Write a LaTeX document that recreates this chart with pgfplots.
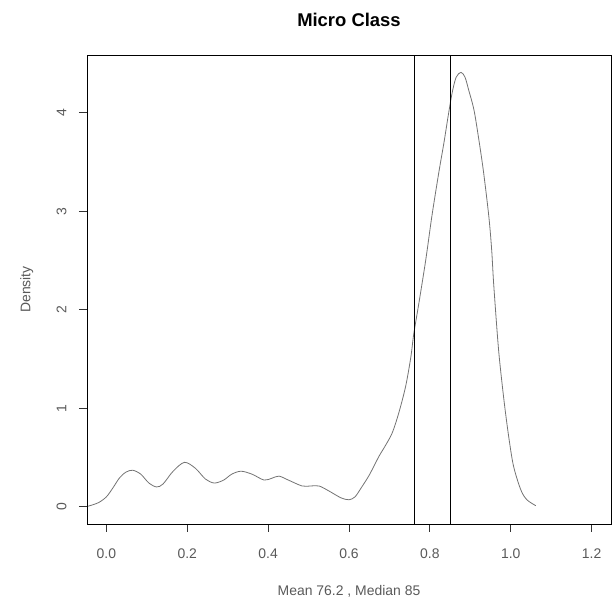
\documentclass[border=0pt]{standalone}
\usepackage{pgfplots}
\pgfplotsset{compat=1.18}
\usepackage{fontspec}
\setmainfont{Liberation Sans}

\begin{document}
\begin{tikzpicture}
\begin{axis}[
    at={(87bp,77bp)},
    anchor=south west,
    scale only axis,
    width=524bp,
    height=469bp,
    xmin=-0.048, xmax=1.248,
    ymin=-0.176, ymax=4.586,
    xtick={0,0.2,0.4,0.6,0.8,1.0,1.2},
    ytick={0,1,2,3,4},
    tick pos=left,
    tick align=outside,
    major tick length=8bp,
    tick style={black!80, line width=0.9bp},
    axis line style={black, line width=0.9bp},
    /pgf/number format/assume math mode=true,
    ticklabel style={font=\fontsize{14}{16}\selectfont, text=black!65},
    xticklabel style={yshift=-13bp, /pgf/number format/fixed,
        /pgf/number format/fixed zerofill, /pgf/number format/precision=1},
    yticklabel style={rotate=90, anchor=south, yshift=9bp},
    title={Micro Class},
    title style={font=\fontsize{18.5}{21}\selectfont\bfseries, at={(axis description cs:0.5,1.062)}, anchor=center},
    xlabel={Mean 76.2 , Median 85},
    xlabel style={font=\fontsize{14}{16}\selectfont, text=black!65, at={(axis description cs:0.5,-0.143)}, anchor=center},
    ylabel={Density},
    ylabel style={font=\fontsize{14}{16}\selectfont, text=black!65, at={(axis description cs:-0.115,0.5)}, anchor=center},
]

% density curve
\addplot[black!55, line width=0.8bp, smooth] coordinates {
    (-0.045, 0.005) (-0.02, 0.04) (0.0, 0.10) (0.016, 0.19) (0.032, 0.29)
    (0.048, 0.35) (0.065, 0.37) (0.085, 0.33) (0.105, 0.24) (0.124, 0.20)
    (0.14, 0.23) (0.165, 0.36) (0.193, 0.45) (0.22, 0.39) (0.245, 0.28)
    (0.267, 0.24) (0.29, 0.27) (0.31, 0.33) (0.333, 0.36) (0.36, 0.33)
    (0.39, 0.27) (0.41, 0.29) (0.427, 0.31) (0.45, 0.27) (0.484, 0.21)
    (0.505, 0.21) (0.526, 0.21) (0.55, 0.16) (0.58, 0.09) (0.60, 0.07)
    (0.615, 0.10) (0.63, 0.19) (0.65, 0.32) (0.674, 0.51) (0.69, 0.62)
    (0.707, 0.75) (0.723, 0.95) (0.740, 1.22) (0.753, 1.52) (0.760, 1.75)
    (0.773, 2.07) (0.79, 2.51) (0.805, 2.95) (0.822, 3.39) (0.835, 3.70)
    (0.845, 3.96) (0.855, 4.20) (0.865, 4.36) (0.877, 4.41) (0.887, 4.36)
    (0.896, 4.23) (0.909, 4.03) (0.921, 3.73) (0.933, 3.39) (0.946, 2.94)
    (0.953, 2.60) (0.958, 2.25) (0.970, 1.59) (0.983, 1.09) (0.995, 0.71)
    (1.007, 0.41) (1.025, 0.17) (1.04, 0.07) (1.062, 0.01)
};

% mean and median
\addplot[black, line width=1bp] coordinates {(0.762,-0.176) (0.762,4.586)};
\addplot[black, line width=1bp] coordinates {(0.85,-0.176) (0.85,4.586)};
\end{axis}
\pgfresetboundingbox
\path[use as bounding box] (0,0) rectangle (612bp,601bp);
\end{tikzpicture}
\end{document}
